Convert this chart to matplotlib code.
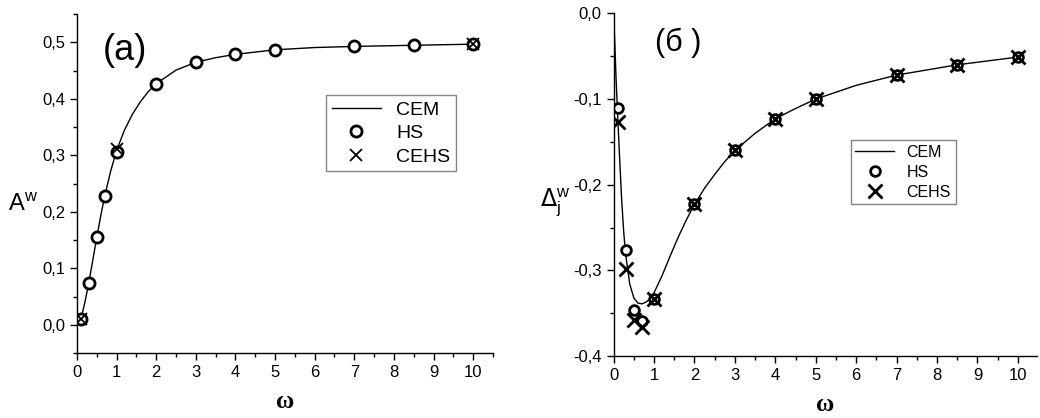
import numpy as np
import matplotlib.pyplot as plt
from matplotlib.ticker import MultipleLocator, FuncFormatter

plt.rcParams['font.family'] = ['Liberation Sans Narrow', 'Liberation Sans', 'DejaVu Sans']

# ---- panel (a): A^w ----
omega = [0.1, 0.3, 0.5, 0.7, 1.0, 2, 3, 4, 5, 7, 8.5, 10]
a_hs = [0.011, 0.075, 0.156, 0.228, 0.307, 0.427, 0.465, 0.479, 0.487, 0.493, 0.495, 0.497]
a_cehs_w = [0.1, 1.0, 10]
a_cehs = [0.011, 0.312, 0.497]
a_cem_w = [0.1, 0.2, 0.3, 0.4, 0.5, 0.6, 0.7, 0.85, 1.0, 1.2, 1.4, 1.6, 1.8, 2.0,
           2.5, 3.0, 3.5, 4.0, 5.0, 6.0, 7.0, 8.5, 10.0]
a_cem = [0.010, 0.040, 0.075, 0.115, 0.155, 0.193, 0.228, 0.272, 0.309, 0.345, 0.373,
         0.395, 0.413, 0.427, 0.451, 0.465, 0.473, 0.479, 0.487, 0.491, 0.493, 0.495, 0.497]

# ---- panel (б): Delta_j^w ----
d_hs = [-0.111, -0.276, -0.346, -0.359, -0.333, -0.223, -0.160, -0.123, -0.100, -0.072, -0.060, -0.051]
d_cehs = [-0.127, -0.298, -0.358, -0.366, -0.333, -0.223, -0.160, -0.123, -0.100, -0.072, -0.060, -0.051]
d_cem_w = [0.0, 0.03, 0.06, 0.1, 0.15, 0.2, 0.25, 0.3, 0.4, 0.5, 0.6, 0.7, 0.8, 0.9, 1.0,
           1.2, 1.4, 1.6, 1.8, 2.0, 2.25, 2.5, 2.75, 3.0, 3.5, 4.0, 4.5, 5.0, 6.0, 7.0, 8.5, 10.0]
d_cem = [0.0, -0.035, -0.075, -0.118, -0.170, -0.218, -0.255, -0.282, -0.316, -0.332, -0.338,
         -0.339, -0.337, -0.333, -0.326, -0.306, -0.283, -0.261, -0.241, -0.223, -0.204,
         -0.188, -0.173, -0.160, -0.140, -0.123, -0.111, -0.100, -0.084, -0.072, -0.060, -0.051]

comma = FuncFormatter(lambda v, p: f'{v:.1f}'.replace('.', ','))


def style_axes(ax):
    for s in ['top', 'right']:
        ax.spines[s].set_visible(False)
    ax.spines['left'].set_linewidth(1.0)
    ax.spines['bottom'].set_linewidth(1.0)
    ax.xaxis.set_major_locator(MultipleLocator(1))
    ax.xaxis.set_minor_locator(MultipleLocator(0.5))
    ax.tick_params(which='major', direction='out', length=5, width=1, labelsize=12)
    ax.tick_params(which='minor', direction='out', length=3, width=1)
    ax.set_xlabel('ω', family=['Liberation Serif', 'DejaVu Serif'], fontweight='bold',
                  fontsize=18, labelpad=7)


fig = plt.figure(figsize=(10.4, 4.18), dpi=100)
ax1 = fig.add_axes([0.074, 0.155, 0.400, 0.811])
ax2 = fig.add_axes([0.590, 0.148, 0.407, 0.820])

# (a)
ax1.plot(a_cem_w, a_cem, color='black', lw=1.0, label='CEM')
ax1.plot(omega, a_hs, 'o', ms=8, mfc='white', mec='black', mew=2, label='HS')
ax1.plot(a_cehs_w, a_cehs, 'x', ms=9, color='black', mew=1.3, label='CEHS')
ax1.set_xlim(0, 10.5)
ax1.set_ylim(-0.05, 0.55)
ax1.yaxis.set_major_locator(MultipleLocator(0.1))
ax1.yaxis.set_minor_locator(MultipleLocator(0.05))
ax1.yaxis.set_major_formatter(comma)
style_axes(ax1)
ax1.set_ylabel('A$^{\\mathregular{w}}$', fontsize=17, rotation=0, ha='center', va='center')
ax1.yaxis.set_label_coords(-0.13, 0.44)
ax1.text(0.063, 0.894, '(a)', transform=ax1.transAxes, fontsize=26, va='center')
ax1.legend(loc='upper left', bbox_to_anchor=(0.599, 0.761), borderaxespad=0,
           fontsize=14, fancybox=False, edgecolor='0.4', handlelength=2.5,
           labelspacing=0.3, borderpad=0.3)

# (б)
ax2.plot(d_cem_w, d_cem, color='black', lw=1.0, label='CEM')
ax2.plot(omega, d_hs, 'o', ms=7, mfc='white', mec='black', mew=2, label='HS')
ax2.plot(omega, d_cehs, 'x', ms=10, color='black', mew=2, label='CEHS')
ax2.set_xlim(0, 10.47)
ax2.set_ylim(-0.4, 0.0)
ax2.yaxis.set_major_locator(MultipleLocator(0.1))
ax2.yaxis.set_minor_locator(MultipleLocator(0.05))
ax2.yaxis.set_major_formatter(comma)
style_axes(ax2)
ax2.set_ylabel('$\\Delta_{\\mathregular{j}}^{\\mathregular{w}}$', fontsize=17,
               rotation=0, ha='center', va='center')
ax2.yaxis.set_label_coords(-0.139, 0.446)
ax2.text(0.097, 0.915, '(б )', transform=ax2.transAxes, fontsize=22, va='center')
ax2.legend(loc='upper left', bbox_to_anchor=(0.560, 0.630), borderaxespad=0,
           fontsize=11.5, fancybox=False, edgecolor='0.4', handlelength=2.4,
           labelspacing=0.3, borderpad=0.3)

fig.savefig('out.png', dpi=100)
